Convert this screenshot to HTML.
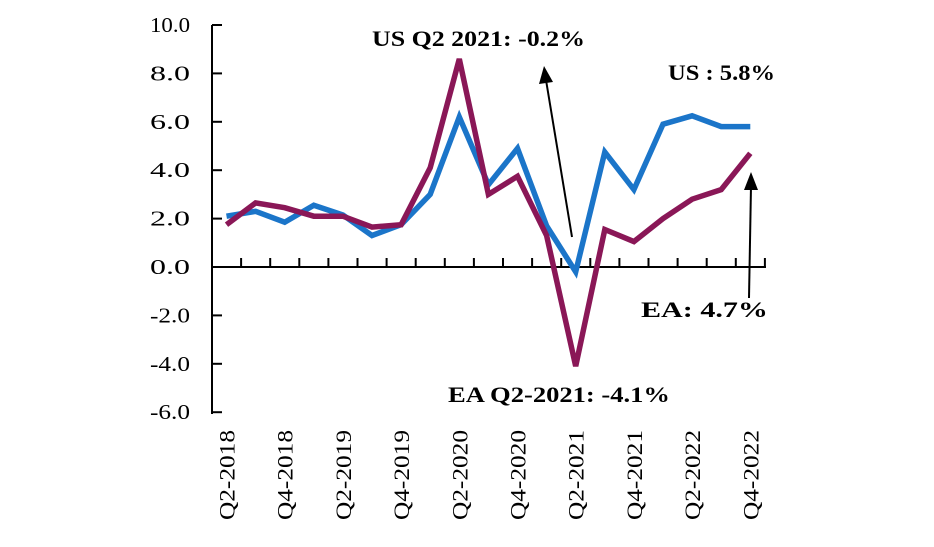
<!DOCTYPE html>
<html><head><meta charset="utf-8"><style>
html,body{margin:0;padding:0;background:#fff;}
svg{display:block;}
text{font-family:"Liberation Serif",serif;fill:#000;}
</style></head><body>
<svg width="934" height="547" viewBox="0 0 934 547" xmlns="http://www.w3.org/2000/svg">
<g id="axes" stroke="#000" stroke-width="2" fill="none">
<line x1="212" y1="25" x2="212" y2="414"/>
<line x1="211" y1="267" x2="766" y2="267"/>
</g>
<g stroke="#000" stroke-width="2" id="yt"></g>
<g stroke="#000" stroke-width="2" id="xt"></g>
<g font-size="21" id="yl"></g>
<g font-size="22" id="xl"></g>
<polyline id="us" fill="none" stroke="#1b75c9" stroke-width="5.5" stroke-linejoin="miter"/>
<polyline id="ea" fill="none" stroke="#8a1757" stroke-width="5.5" stroke-linejoin="miter"/>
<g stroke="#000" stroke-width="2">
<line x1="572" y1="237" x2="546" y2="80"/>
<line x1="749" y1="298" x2="751" y2="186"/>
</g>
<polygon points="544,66 539,84 553,82" fill="#000"/>
<polygon points="751,172 744,190 758,190" fill="#000"/>
<g font-size="22" font-weight="bold">
<text x="372" y="46" textLength="213" lengthAdjust="spacingAndGlyphs">US Q2 2021: -0.2%</text>
<text x="668" y="80" textLength="107" lengthAdjust="spacingAndGlyphs">US : 5.8%</text>
<text x="641" y="317" textLength="127" lengthAdjust="spacingAndGlyphs">EA:  4.7%</text>
<text x="448" y="402" textLength="222" lengthAdjust="spacingAndGlyphs">EA  Q2-2021: -4.1%</text>
</g>
<script>
var ns="http://www.w3.org/2000/svg";
function y(v){return 267-v*24.2;}
function x(i){return 226.5+i*29.1;}
var yt=document.getElementById('yt'),yl=document.getElementById('yl'),xt=document.getElementById('xt'),xl=document.getElementById('xl');
for(var v=-6;v<=10;v+=2){var l=document.createElementNS(ns,'line');l.setAttribute('x1',212);l.setAttribute('x2',222);l.setAttribute('y1',y(v));l.setAttribute('y2',y(v));yt.appendChild(l);
var t=document.createElementNS(ns,'text');t.setAttribute('x',150);t.setAttribute('y',y(v)+7);t.setAttribute('textLength',40);t.setAttribute('lengthAdjust','spacingAndGlyphs');t.textContent=v.toFixed(1);yl.appendChild(t);}
for(var k=1;k<=19;k++){var xx=212+k*29.1;var l=document.createElementNS(ns,'line');l.setAttribute('x1',xx);l.setAttribute('x2',xx);l.setAttribute('y1',258);l.setAttribute('y2',267);xt.appendChild(l);}
var labs=["Q2-2018","Q4-2018","Q2-2019","Q4-2019","Q2-2020","Q4-2020","Q2-2021","Q4-2021","Q2-2022","Q4-2022"];
for(var j=0;j<10;j++){var t=document.createElementNS(ns,'text');var cx=x(j*2)+8;t.setAttribute('transform','translate('+cx+',520) rotate(-90)');t.setAttribute('textLength',90);t.setAttribute('lengthAdjust','spacingAndGlyphs');t.textContent=labs[j];xl.appendChild(t);}
var us=[2.1,2.3,1.85,2.55,2.15,1.3,1.75,3.0,6.2,3.4,4.9,1.7,-0.2,4.75,3.2,5.9,6.25,5.8,5.8];
var ea=[1.75,2.65,2.45,2.1,2.1,1.65,1.75,4.1,8.6,3.0,3.75,1.3,-4.1,1.55,1.05,2.0,2.8,3.2,4.7];
function pts(a){return a.map(function(v,i){return x(i).toFixed(1)+','+y(v).toFixed(1);}).join(' ');}
document.getElementById('us').setAttribute('points',pts(us));
document.getElementById('ea').setAttribute('points',pts(ea));
</script>
</svg>
</body></html>
